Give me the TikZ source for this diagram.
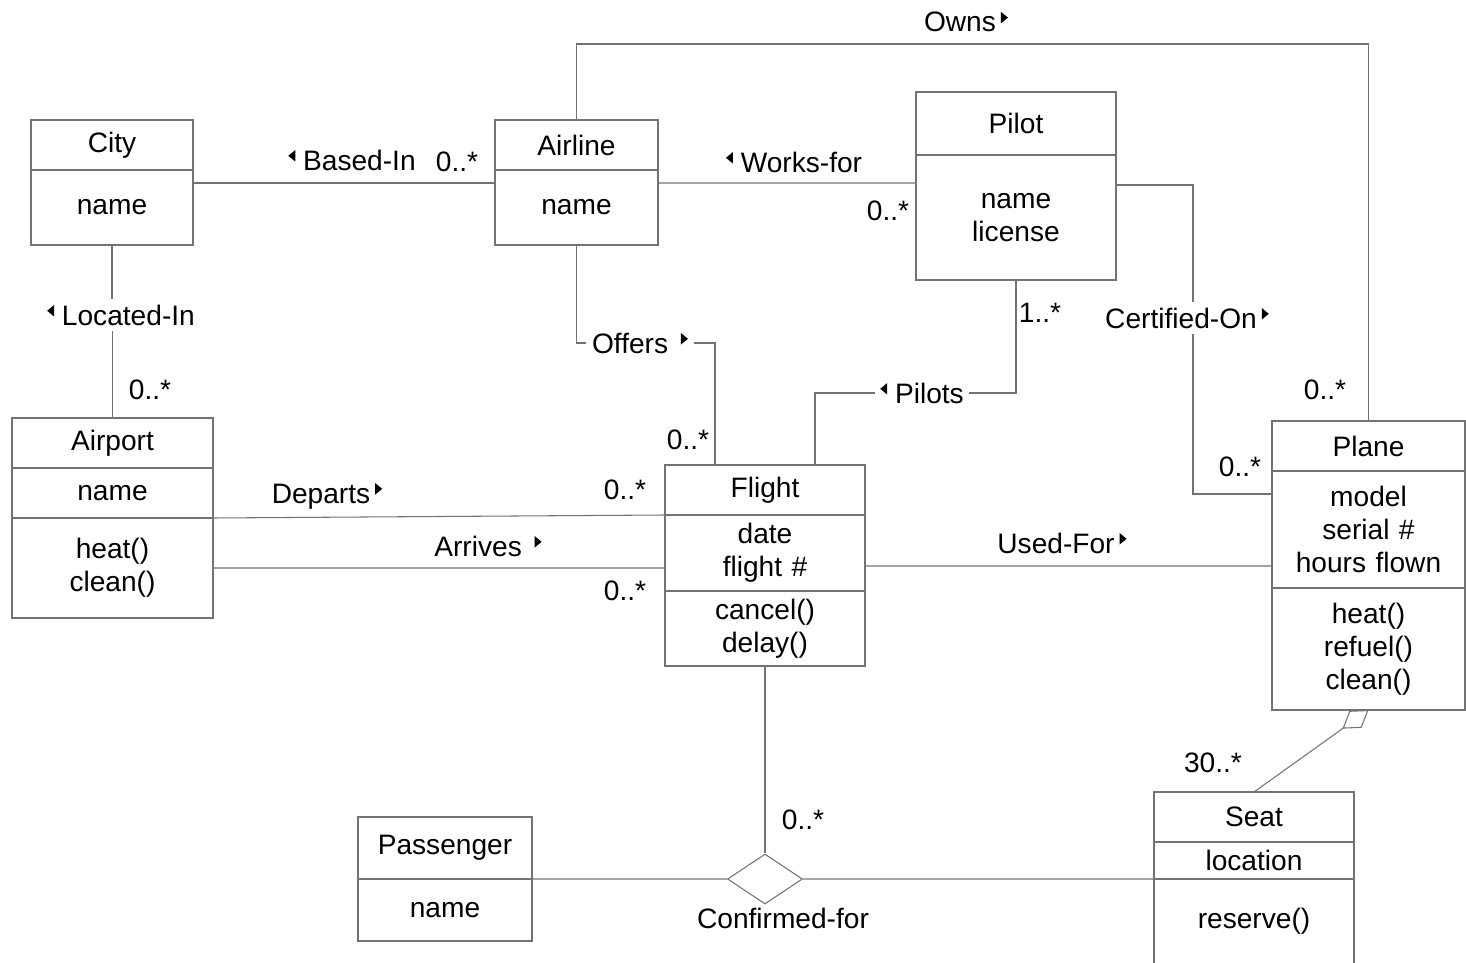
\documentclass[tikz,border=0pt]{standalone}
\usepackage{fontspec}
\setmainfont{Liberation Sans}
\usepackage{tikz}
\usetikzlibrary{shapes.geometric, arrows.meta, positioning}
\newcommand{\dirl}{\tikz[baseline={(0,-0.17)}]\fill (0.14,0) -- (0.14,0.23) -- (0,0.115) -- cycle;}
\newcommand{\dirr}{\hspace{0.1cm}\tikz[baseline={(0,-0.17)}]\fill (0,0) -- (0,0.23) -- (0.14,0.115) -- cycle;}
\tikzstyle{clshead} = [rectangle, draw=black!55, line width=0.6pt, inner sep=0pt, outer sep=0pt, minimum height=1cm, align=center]
\tikzstyle{clspart} = [clshead]
\tikzstyle{assoc} = [draw=black!55, line width=0.6pt]
\tikzstyle{mult} = [inner sep=1pt]
\tikzstyle{rel} = [inner sep=3pt]

\begin{document}
\begin{tikzpicture}[font=\fontsize{16}{18.8}\selectfont]
        \useasboundingbox (0,0) rectangle (29.32,-19.26);
        % classes
        \node (cityhead) [clshead, text width=3.24cm] at (2.24,-2.9) {City};
        \node (cityattr) [clspart, text width=3.24cm, minimum height=1.5cm, below=0pt of cityhead] {name};
        
        \node (airlinehead) [clshead, text width=3.26cm] at (11.53,-2.9) {Airline};
        \node (airlineattr) [clspart, text width=3.26cm, minimum height=1.5cm, below=0pt of airlinehead] {name};
        
        \node (pilothead) [clshead, text width=4cm, minimum height=1.26cm] at (20.32,-2.47) {Pilot};
        \node (pilotattr) [clspart, text width=4cm, minimum height=2.5cm, below=0pt of pilothead] {name\\license};
        
        \node (airporthead) [clshead, text width=4.02cm] at (2.25,-8.86) {Airport};
        \node (airportattr) [clspart, text width=4.02cm, below=0pt of airporthead] {name};
        \node (airportops) [clspart, text width=4.02cm, minimum height=2cm, below=0pt of airportattr] {heat()\\clean()};
        
        \node (flighthead) [clshead, text width=4cm] at (15.3,-9.8) {Flight};
        \node (flightattr) [clspart, text width=4cm, minimum height=1.52cm, below=0pt of flighthead] {date\\flight \#};
        \node (flightops) [clspart, text width=4cm, minimum height=1.5cm, below=0pt of flightattr] {cancel()\\delay()};
        
        \node (planehead) [clshead, text width=3.86cm] at (27.37,-8.92) {Plane};
        \node (planeattr) [clspart, text width=3.86cm, minimum height=2.34cm, below=0pt of planehead] {model\\serial \#\\hours flown};
        \node (planeops) [clspart, text width=3.86cm, minimum height=2.44cm, below=0pt of planeattr] {heat()\\refuel()\\clean()};
        
        \node (seathead) [clshead, text width=4cm] at (25.08,-16.34) {Seat};
        \node (seatattr) [clspart, text width=4cm, minimum height=0.74cm, below=0pt of seathead] {location};
        \node (seatops) [clspart, draw=none, text width=4cm, minimum height=1.68cm, below=0pt of seatattr] {reserve()};
        
        \node (passhead) [clshead, text width=3.48cm, minimum height=1.24cm] at (8.9,-16.96) {Passenger};
        \node (passattr) [clspart, text width=3.48cm, minimum height=1.24cm, below=0pt of passhead] {name};
        
        \node (confirm) [diamond, draw=black!55, line width=0.6pt, inner sep=0pt, minimum width=1.5cm, minimum height=1cm] at (15.3,-17.58) {};
        
        % association names
        \node (basedlbl) [rel] at (7.04,-3.2) {\dirl\ Based-In};
        \node (workslbl) [rel] at (15.88,-3.24) {\dirl\ Works-for};
        \node (ownslbl) [rel] at (19.32,-0.44) {Owns\dirr};
        \node (locatedlbl) [rel] at (2.42,-6.3) {\dirl\ Located-In};
        \node (offerslbl) [rel] at (12.8,-6.86) {Offers \dirr};
        \node (pilotslbl) [rel] at (18.44,-7.86) {\dirl\ Pilots};
        \node (certlbl) [rel] at (23.74,-6.36) {Certified-On\dirr};
        \node (departslbl) [rel] at (6.54,-9.92) {Departs\dirr};
        \node (arriveslbl) [rel] at (9.76,-10.92) {Arrives \dirr};
        \node (usedlbl) [rel] at (21.24,-10.86) {Used-For\dirr};
        \node (confirmlbl) [rel] at (15.66,-18.36) {Confirmed-for};
        
        % multiplicities
        \node (m1) [mult] at (9.14,-3.24) {0..*};
        \node (m2) [mult] at (17.76,-4.22) {0..*};
        \node (m3) [mult] at (26.5,-7.8) {0..*};
        \node (m4) [mult] at (3.0,-7.8) {0..*};
        \node (m5) [mult] at (13.76,-8.8) {0..*};
        \node (m6) [mult] at (20.8,-6.26) {1..*};
        \node (m7) [mult] at (24.8,-9.34) {0..*};
        \node (m8) [mult] at (12.5,-9.8) {0..*};
        \node (m9) [mult] at (12.5,-11.82) {0..*};
        \node (m10) [mult] at (16.06,-16.4) {0..*};
        \node (m11) [mult] at (24.26,-15.26) {30..*};
        
        \draw [assoc] (seatops.north west) -- (seatops.south west) (seatops.north east) -- (seatops.south east);
        
        \draw [assoc] ([yshift=0.49cm]cityattr.east) -- ([yshift=0.49cm]airlineattr.west);
        \draw [assoc] ([yshift=0.49cm]airlineattr.east) -- ([yshift=0.69cm]pilotattr.west);
        \draw [assoc] (airlinehead.north) |- (19.32,-0.88) -| (planehead.north);
        \draw [assoc] (cityattr.south) -- (cityattr.south |- locatedlbl.north);
        \draw [assoc] (airporthead.north |- locatedlbl.south) -- (airporthead.north);
        \draw [assoc] (airlineattr.south) |- (offerslbl.west);
        \draw [assoc] (offerslbl.east) -| ([xshift=1cm]flighthead.north west);
        \draw [assoc] (pilotattr.south) |- (pilotslbl.east);
        \draw [assoc] (pilotslbl.west) -| ([xshift=3cm]flighthead.north west);
        \draw [assoc] ([yshift=0.65cm]pilotattr.east) -| ([xshift=0.12cm]certlbl.north);
        \draw [assoc] ([xshift=0.12cm]certlbl.south) |- ([yshift=0.71cm]planeattr.west);
        \draw [assoc] (airportattr.south east) -- (flighthead.south west);
        \draw [assoc] (airportops.east) -- ([yshift=-0.3cm]flightattr.west);
        \draw [assoc] ([yshift=-0.26cm]flightattr.east) -- ([yshift=-0.73cm]planeattr.west);
        \draw [assoc] (flightops.south) -- (confirm.north);
        \draw [assoc] (passhead.south east) -- (confirm.west);
        \draw [assoc] (confirm.east) -- (seatattr.south west);
        \draw [assoc, -{Diamond[open, length=0.64cm, width=0.42cm]}] (seathead.north) -- (planeops.south);
        % open end of Seat is the page edge
\end{tikzpicture}
\end{document}
